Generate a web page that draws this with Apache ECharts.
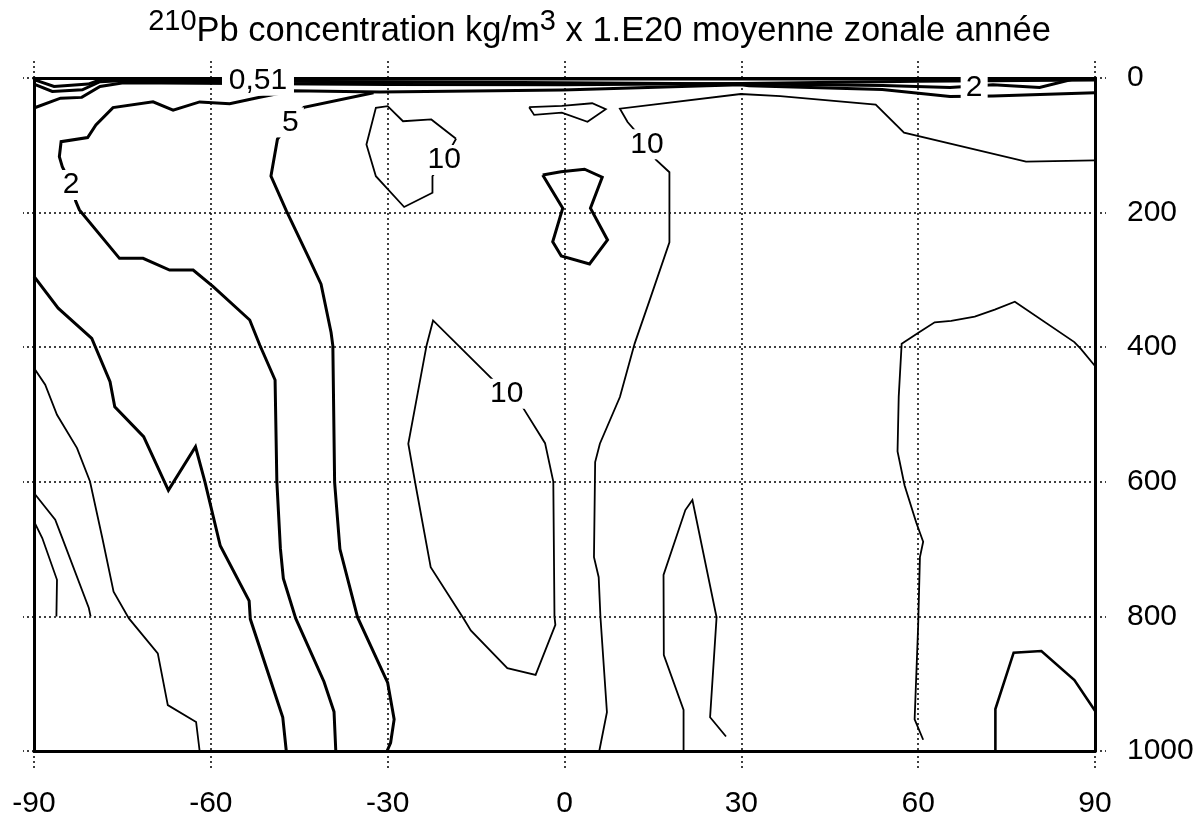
<!DOCTYPE html>
<html lang="fr">
<head>
<meta charset="UTF-8" />
<title>210Pb concentration moyenne zonale année</title>
<script src="https://cdn.jsdelivr.net/npm/echarts@6/dist/echarts.min.js"></script>
<style>
  html, body { margin: 0; padding: 0; background: #fff; }
  #chart { width: 1199px; height: 818px; }
</style>
</head>
<body>
<div id="chart"></div>
<script>
  // axes
  const latTicks = [-90, -60, -30, 0, 30, 60, 90];
  const levelTicks = [0, 200, 400, 600, 800, 1000];

  // contour lines, points are [latitude, level]
  const c05 = [[-90, 2.5], [-86.6, 12.5], [-80.8, 9], [-78.5, 2], [-75, 1.5], [0, 1.5], [90, 1.5]];
  const c1 = [[-90, 9], [-86.9, 20], [-81.8, 17.5], [-78.8, 5.5], [-75.4, 4], [-30, 5.5], [0, 7], [31.5, 9],
    [54, 11], [65.4, 14], [72.7, 10], [80.6, 14], [86.2, 2], [90, 1]];
  const c15 = [[-90, 44.6], [-85.5, 30], [-81.9, 28.8], [-78.8, 12.5], [-74.8, 7], [-30, 9.5], [0, 10],
    [30, 8], [60, 5], [90, 3]];
  const c2 = [[90, 21.8], [72.7, 26.6], [65.4, 27.4], [53.9, 17.1], [31.3, 11.4], [29.9, 10], [-0.3, 17.8],
    [-31.3, 20.8], [-46.2, 18.9], [-51.7, 28.5], [-56.8, 38.2], [-61.9, 35.5], [-66.4, 47.8], [-69.8, 35.3],
    [-76.6, 44], [-79.5, 69.7], [-80.9, 88.5], [-85.4, 94.6], [-85.7, 117], [-85.2, 131.7], [-83.7, 159],
    [-82.9, 183.6], [-82.3, 196], [-75.5, 268], [-71.5, 268], [-67, 285.4], [-63, 285.4], [-59.6, 310],
    [-53.4, 359.6], [-51.7, 396.7], [-49.1, 448.7], [-48.8, 599.7], [-48.2, 699], [-47.7, 743.6],
    [-45.6, 803], [-40.8, 897], [-39.1, 941.6], [-38.8, 1000]];
  const c5 = [[-32.4, 22], [-44.2, 43.5], [-46.5, 65.8], [-48.7, 90.9], [-49.8, 145.6], [-47.2, 197.1],
    [-43.3, 268.7], [-41.3, 306.3], [-39.6, 378.1], [-39.3, 398], [-39.0, 600.9], [-38.1, 700],
    [-35.1, 801.6], [-30.0, 898.4], [-29.2, 938], [-28.9, 953], [-29.5, 987.7], [-30.1, 1000]];
  const c1South = [[-90, 294.7], [-85.9, 342], [-80.2, 387], [-77.1, 451.3], [-76.3, 488.4], [-71.4, 533],
    [-67.2, 612.6], [-62.6, 548], [-61.0, 600], [-58.4, 695], [-53.5, 776.9], [-53.3, 804],
    [-47.8, 949.8], [-47.2, 1000]];
  const cSouthA = [[-90, 431], [-88.1, 455.8], [-86.1, 500.5], [-82.7, 550], [-80.5, 599.5], [-78.4, 683.9],
    [-76.5, 763.2], [-73.9, 803], [-69.0, 855], [-67.3, 931.8], [-62.5, 956.8], [-61.9, 1000]];
  const cSouthB = [[-90, 616.7], [-86.4, 656.4], [-85.2, 683.6], [-80.7, 787.6], [-80.4, 800]];
  const cSouthC = [[-90, 658.7], [-88.6, 683.6], [-86.1, 745.6], [-86.2, 800]];
  const c10West = [[-18.4, 90.3], [-22.6, 61.6], [-27.4, 64.2], [-30.0, 41.9], [-32.0, 44.3], [-33.6, 98.8],
    [-32.0, 145.9], [-27.2, 191.7], [-22.4, 170.6], [-22.4, 145.9], [-20.4, 122], [-18.4, 90.3]];
  const c10 = [[90, 122.3], [78.3, 124.3], [57.6, 81.3], [52.8, 39.4], [36.6, 27], [29.9, 23.8], [9.4, 45.5],
    [10.7, 65.4], [14.0, 98.5], [15.5, 121.2], [17.8, 140], [17.8, 244.3], [14.45, 330], [11.9, 394.7],
    [9.4, 474], [6.0, 543.4], [5.2, 570.7], [5.0, 712], [5.8, 741.8], [6.1, 801.2], [7.2, 942.4], [5.9, 1000]];
  const c10Mid = [[-7.0, 490.5], [-3.3, 542.6], [-1.9, 599.7], [-1.7, 800.3], [-1.55, 812.6], [-4.9, 886.9],
    [-9.7, 877], [-15.9, 820.8], [-17.1, 803.4], [-22.7, 726.8], [-25.3, 602.9], [-26.5, 543.5],
    [-23.4, 397.4], [-22.3, 360.2], [-13.5, 436.8], [-9.8, 469], [-7.0, 490.5]];
  const cCore = [[-3.7, 144], [-0.6, 139.2], [3.4, 135.5], [6.4, 147.4], [4.4, 193.5], [7.3, 240.7],
    [4.25, 276.4], [-0.55, 264.5], [-2.0, 243.3], [-0.3, 193.6], [-3.7, 144]];
  const cTop = [[-6.0, 43.4], [-5.15, 54.8], [-0.45, 51.4], [3.9, 65], [7.0, 46.4], [4.7, 37.5],
    [-0.45, 41.5], [-6.0, 43.4]];
  const cTropic = [[27.4, 978.5], [24.7, 949.8], [25.8, 801.2], [21.7, 627.1], [20.5, 642], [16.8, 738.5],
    [16.85, 857.4], [20.2, 939], [20.2, 1000]];
  const cNorth = [[60.85, 983.3], [59.4, 952.8], [60, 813.4], [60.3, 711.9], [60.85, 689.1], [59.7, 661.2],
    [57.7, 605.4], [56.5, 554.7], [56.7, 473.5], [57.2, 394.9], [60.3, 377.2], [62.8, 363], [65.6, 361],
    [69.6, 354.4], [73, 344.2], [76.4, 332.5], [86.5, 392.4], [87.6, 402.5], [90, 427.9]];
  const cArctic = [[73.1, 1000], [73.1, 937.6], [76.2, 853.9], [80.9, 851.4], [86.5, 894.5], [90, 940.2]];

  // contour labels
  const labelTexts = ['0,51', '5', '2', '10', '10', '10', '2'];
  const labelPoints = [[-52, 4], [-46.5, 66], [-83.7, 159], [-20.4, 122], [14, 98.5], [-9.8, 469], [69.5, 14]];

  const font = '"Liberation Sans", Arial, Helvetica, sans-serif';
  const thick = 3;
  const thin = 1.8;

  const contours = [
    [c05, thick], [c1, thick], [c15, thick], [c2, thick], [c5, thick], [c1South, thick],
    [cSouthA, thin], [cSouthB, thin], [cSouthC, thin], [c10West, thin], [c10, thin], [c10Mid, thin],
    [cCore, thick], [cTop, thin], [cTropic, thin], [cNorth, thin], [cArctic, 2.6]
  ];

  const dots = { type: [2, 3], color: '#000', width: 1.5 };
  const frame = { show: true, onZero: false, lineStyle: { color: '#000', width: 3 } };

  function latAxis(pos, labels) {
    return {
      type: 'value', position: pos,
      min: latTicks[0], max: latTicks[latTicks.length - 1], interval: latTicks[1] - latTicks[0],
      axisLine: frame,
      axisTick: { show: true, length: 17, lineStyle: dots },
      axisLabel: { show: labels, margin: 38, fontSize: 30, color: '#000', fontFamily: font },
      splitLine: { show: labels, lineStyle: dots }
    };
  }

  function levelAxis(pos, labels) {
    return {
      type: 'value', position: pos, inverse: true,
      min: levelTicks[0], max: levelTicks[levelTicks.length - 1], interval: levelTicks[1] - levelTicks[0],
      axisLine: frame,
      axisTick: { show: true, length: 11, lineStyle: dots },
      axisLabel: {
        show: labels, margin: 32, fontSize: 30, color: '#000', fontFamily: font, align: 'left',
        formatter: v => String(v)
      },
      splitLine: { show: labels, lineStyle: dots }
    };
  }

  const series = contours.map(([pts, w]) => ({
    type: 'line',
    data: pts,
    symbol: 'none',
    showSymbol: false,
    silent: true,
    z: 3,
    lineStyle: { color: '#000', width: w, join: 'miter' }
  }));

  // white boxes under the contour labels cut the lines, as in the plot
  series.push({
    type: 'scatter',
    z: 10,
    silent: true,
    symbol: 'rect',
    symbolSize: (v, p) => [p.name.length * 15 + 12, 30],
    itemStyle: { color: '#fff', opacity: 1 },
    data: labelPoints.map((p, i) => ({ name: labelTexts[i], value: p })),
    label: {
      show: true, position: 'inside', formatter: '{b}',
      fontSize: 30, color: '#000', fontFamily: font,
      textBorderWidth: 0, opacity: 1
    },
    emphasis: { disabled: true }
  });

  const chart = echarts.init(document.getElementById('chart'));
  chart.setOption({
    animation: false,
    backgroundColor: '#fff',
    title: {
      left: 'center', top: 2,
      text: '{sup|210}{main|Pb concentration kg/m}{sup|3}{main| x 1.E20 moyenne zonale année}',
      textStyle: {
        rich: {
          main: { fontSize: 34.5, fontWeight: 'normal', fontFamily: font, color: '#000', lineHeight: 42, verticalAlign: 'bottom' },
          sup: { fontSize: 29, fontWeight: 'normal', fontFamily: font, color: '#000', lineHeight: 30, verticalAlign: 'top' }
        }
      }
    },
    grid: { left: 34, right: 104, top: 78, bottom: 67, outerBoundsMode: 'none' },
    xAxis: [latAxis('bottom', true), latAxis('top', false)],
    yAxis: [levelAxis('right', true), levelAxis('left', false)],
    series: series
  });
</script>
</body>
</html>
